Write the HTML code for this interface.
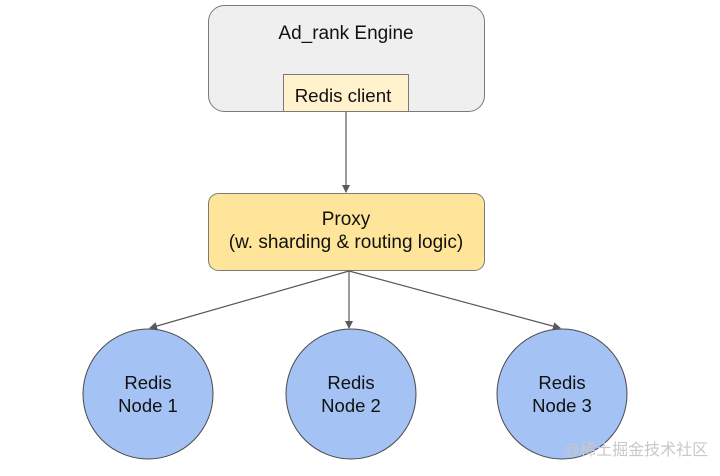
<!DOCTYPE html>
<html><head><style>body{margin:0;background:#fff}</style></head><body>
<svg width="720" height="471" viewBox="0 0 720 471" font-family="Liberation Sans, Arial, sans-serif">
<defs><marker id="a" markerWidth="8" markerHeight="8" refX="7" refY="4" orient="auto" markerUnits="userSpaceOnUse"><path d="M0,0 L8,4 L0,8 z" fill="#595959"/></marker></defs>
<rect x="208.5" y="5.5" width="276" height="106" rx="16" fill="#efefef" stroke="#7a7a7a"/>
<text x="346" y="39" font-size="19" text-anchor="middle" fill="#111">Ad_rank Engine</text>
<rect x="283.5" y="74.5" width="125" height="37" fill="#fff2cc" stroke="#7a7a7a"/>
<text x="343" y="102" font-size="18.7" text-anchor="middle" fill="#111">Redis client</text>
<line x1="346" y1="112" x2="346" y2="192" stroke="#595959" stroke-width="1.2" marker-end="url(#a)"/>
<rect x="208.5" y="193.5" width="276" height="77" rx="10" fill="#ffe599" stroke="#7a7a7a"/>
<text x="346" y="225" font-size="19" text-anchor="middle" fill="#111">Proxy</text>
<text x="346" y="248" font-size="19" text-anchor="middle" fill="#111">(w. sharding &amp; routing logic)</text>
<line x1="349" y1="271" x2="150" y2="328" stroke="#595959" stroke-width="1.2" marker-end="url(#a)"/>
<line x1="349" y1="271" x2="349" y2="328" stroke="#595959" stroke-width="1.2" marker-end="url(#a)"/>
<line x1="349" y1="271" x2="560" y2="328" stroke="#595959" stroke-width="1.2" marker-end="url(#a)"/>
<g fill="#a4c2f4" stroke="#4a4a4a">
<circle cx="148" cy="394" r="65"/><circle cx="351" cy="394" r="65"/><circle cx="562" cy="394" r="65"/></g>
<g font-size="18.5" text-anchor="middle" fill="#111">
<text x="148" y="389">Redis</text><text x="148" y="412">Node 1</text>
<text x="351" y="389">Redis</text><text x="351" y="412">Node 2</text>
<text x="562" y="389">Redis</text><text x="562" y="412">Node 3</text></g>
<text x="636" y="455" font-size="16" text-anchor="middle" fill="#c8c8c8" font-family="Liberation Sans, Noto Sans CJK SC, sans-serif">@稀土掘金技术社区</text>
</svg>
</body></html>
